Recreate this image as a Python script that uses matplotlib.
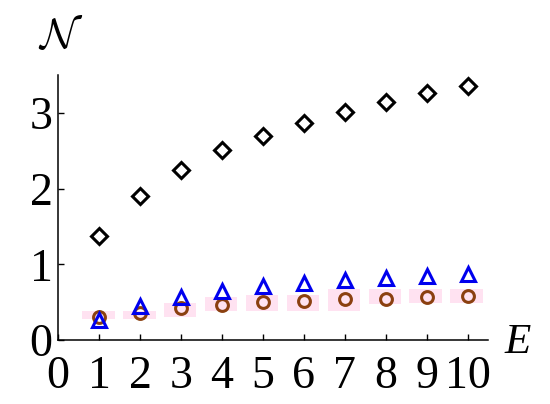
import matplotlib
matplotlib.use("Agg")
import matplotlib.pyplot as plt
from matplotlib.patches import Rectangle

plt.rcParams['font.family'] = ['Liberation Serif', 'DejaVu Serif']
plt.rcParams['mathtext.fontset'] = 'cm'

E = [1, 2, 3, 4, 5, 6, 7, 8, 9, 10]
diamond = [1.38, 1.91, 2.25, 2.51, 2.70, 2.87, 3.01, 3.14, 3.26, 3.36]
triangle = [0.26, 0.45, 0.57, 0.65, 0.71, 0.75, 0.79, 0.82, 0.85, 0.88]
circle = [0.30, 0.36, 0.43, 0.47, 0.50, 0.52, 0.54, 0.55, 0.57, 0.58]
band_lo = [0.28, 0.28, 0.30, 0.38, 0.38, 0.38, 0.38, 0.48, 0.49, 0.49]
band_hi = [0.38, 0.38, 0.49, 0.57, 0.60, 0.60, 0.68, 0.68, 0.68, 0.68]
xticks = [0, 1, 2, 3, 4, 5, 6, 7, 8, 9, 10]
yticks = [0, 1, 2, 3]

fig = plt.figure(figsize=(5.5, 4.04), dpi=100)
ax = fig.add_axes([0.1055, 0.158, 0.782, 0.656])

for x, lo, hi in zip(E, band_lo, band_hi):
    ax.add_patch(Rectangle((x - 0.42, lo), 0.8, hi - lo, facecolor='#FFE2F1',
                           edgecolor='none', zorder=1))

ax.plot(E, diamond, linestyle='none', marker='D', markersize=8.5, markerfacecolor='white',
        markeredgecolor='black', markeredgewidth=2.2, zorder=3)
ax.plot(E, circle, linestyle='none', marker='o', markersize=8.5, markerfacecolor='none',
        markeredgecolor='#8B4010', markeredgewidth=2.2, zorder=3)
ax.plot(E, triangle, linestyle='none', marker='^', markersize=10, markerfacecolor='none',
        markeredgecolor='#0000EE', markeredgewidth=2.2, zorder=4)

ax.set_xlim(0, 10.5)
ax.set_ylim(0, 3.5)
ax.set_xticks(xticks)
ax.set_yticks(yticks)
ax.spines['top'].set_visible(False)
ax.spines['right'].set_visible(False)
ax.spines['left'].set_linewidth(1.1)
ax.spines['bottom'].set_linewidth(1.1)
ax.tick_params(direction='in', length=4, width=1, labelsize=33)
ax.tick_params(axis='x', pad=11)
ax.tick_params(axis='y', pad=4)

fig.text(0.11, 0.908, r'$\mathcal{N}$', fontsize=31, ha='center', va='center')
fig.text(0.942, 0.152, 'E', fontsize=31, style='italic', ha='center', va='center')

fig.savefig('out.png', dpi=100)
